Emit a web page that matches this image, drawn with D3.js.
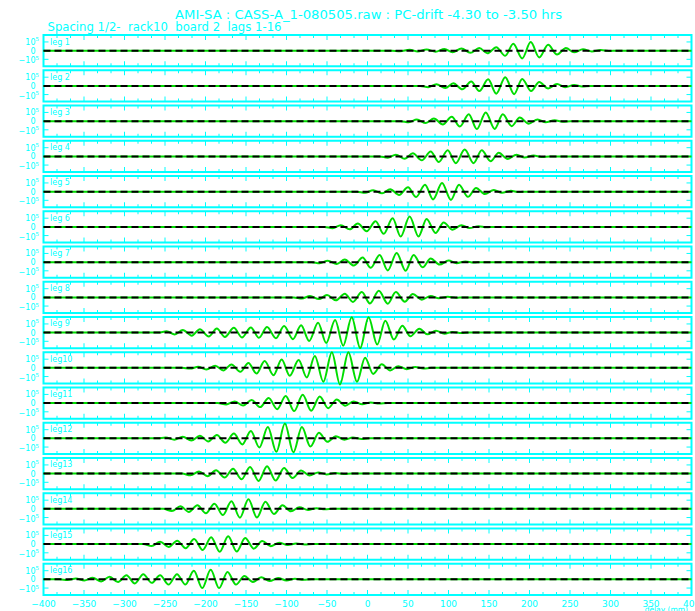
<!DOCTYPE html>
<html lang="en">
<head>
  <meta charset="UTF-8">
  <title>AMI-SA lag plot</title>
  <script src="https://d3js.org/d3.v7.min.js"></script>
  <style>
    html, body { margin: 0; padding: 0; background: #fff; }
    svg { display: block; }
    text { font-family: "DejaVu Sans", "Liberation Sans", sans-serif; fill: #00ffff; white-space: pre; }
  </style>
</head>
<body>
<div id="chart"></div>
<script>
  const titleText = "AMI-SA : CASS-A_1-080505.raw : PC-drift -4.30 to -3.50 hrs";
  const subtitleText = "Spacing 1/2-  rack10  board 2  lags 1-16";
  const lagLabels = ["leg 1","leg 2","leg 3","leg 4","leg 5","leg 6","leg 7","leg 8",
                     "leg 9","leg10","leg11","leg12","leg13","leg14","leg15","leg16"];
  const xTickLabels = [-400,-350,-300,-250,-200,-150,-100,-50,0,50,100,150,200,250,300,350,400];
  const yTickValues = [-1, 0, 1]; // units of 1e5

  // [delay (mm), amplitude (x1e5)] fringe extremes
  const lag1 = [[-400,0],[30,0],[40,-0.08],[52,0.1],[62,-0.1],[73,0.12],[84,-0.12],[95,0.18],[105,-0.2],[116,0.25],[127,-0.25],[138,0.3],[148,-0.3],[159,0.4],[170,-0.59],[180,0.78],[191,-0.9],[201.5,0.98],[212,-0.78],[223,0.67],[234,-0.45],[245,0.3],[255,-0.2],[266,0.15],[277,-0.1],[288,0.06],[298,-0.04],[308,0],[400,0]];
  const lag2 = [[-400,0],[65,0],[75,-0.15],[85,0.2],[96,-0.25],[106,0.3],[117,-0.4],[128,0.5],[138,-0.6],[149,0.75],[159,-0.9],[170,1.0],[181,-0.95],[191,0.8],[202,-0.6],[212,0.45],[223,-0.3],[234,0.22],[244,-0.15],[255,0.1],[265,-0.07],[275,0],[400,0]];
  const lag3 = [[-400,0],[41,0],[51,-0.12],[61,0.18],[72,-0.22],[82,0.3],[93,-0.38],[104,0.5],[114,-0.62],[125,0.8],[135,-0.92],[146,1.0],[157,-0.9],[167,0.78],[178,-0.58],[188,0.42],[199,-0.3],[210,0.2],[220,-0.14],[231,0.1],[241,-0.06],[251,0],[400,0]];
  const lag4 = [[-400,0],[15,0],[25,-0.15],[35,0.2],[46,-0.28],[56,0.35],[67,-0.45],[78,0.55],[88,-0.65],[99,0.72],[109,-0.78],[120,0.8],[131,-0.78],[141,0.7],[152,-0.55],[162,0.42],[173,-0.3],[184,0.2],[194,-0.14],[205,0.1],[215,-0.06],[225,0],[400,0]];
  const lag5 = [[-400,0],[-13,0],[-3,-0.12],[7,0.15],[18,-0.2],[28,0.28],[39,-0.38],[50,0.5],[60,-0.62],[71,0.78],[81,-0.9],[92,1.0],[103,-0.95],[113,0.8],[124,-0.6],[134,0.42],[145,-0.28],[156,0.2],[166,-0.13],[177,0.09],[187,-0.05],[197,0],[400,0]];
  const lag6 = [[-400,0],[-53,0],[-43,-0.15],[-33,0.2],[-22,-0.28],[-12,0.38],[-1,-0.5],[10,0.65],[20,-0.8],[31,0.98],[41,-1.12],[52,1.2],[63,-1.1],[73,0.92],[84,-0.7],[94,0.5],[105,-0.32],[116,0.2],[126,-0.13],[137,0.08],[147,-0.05],[157,0],[400,0]];
  const lag7 = [[-400,0],[-69,0],[-59,-0.12],[-49,0.16],[-38,-0.22],[-28,0.3],[-17,-0.4],[-6,0.52],[4,-0.66],[15,0.82],[25,-0.96],[36,1.05],[47,-0.98],[57,0.82],[68,-0.6],[78,0.42],[89,-0.28],[100,0.18],[110,-0.12],[121,0.08],[131,-0.05],[141,0],[400,0]];
  const lag8 = [[-400,0],[-91,0],[-81,-0.12],[-71,0.15],[-60,-0.2],[-50,0.26],[-39,-0.34],[-28,0.42],[-18,-0.52],[-7,0.62],[3,-0.7],[14,0.75],[25,-0.72],[35,0.62],[46,-0.5],[56,0.38],[67,-0.26],[78,0.17],[88,-0.11],[99,0.07],[109,-0.04],[119,0],[400,0]];
  const lag9 = [[-400,0],[-258,0],[-248,0.15],[-238,-0.22],[-228,0.3],[-217,-0.35],[-207,0.4],[-196,-0.45],[-186,0.47],[-176,-0.5],[-165,0.55],[-155,-0.55],[-144,0.6],[-134,-0.6],[-124,0.65],[-113,-0.65],[-103,0.75],[-92,-0.75],[-82,0.85],[-72,-0.95],[-61,1.15],[-51,-1.2],[-40,1.45],[-30,-1.5],[-19.5,1.76],[-9,-1.78],[1.3,1.76],[12,-1.37],[22,1.37],[32.5,-0.8],[43,0.8],[53,-0.42],[64,0.45],[74,-0.2],[84.5,0.22],[95,-0.12],[105,0.08],[116,-0.05],[126,0],[400,0]];
  const lag10 = [[-400,0],[-229,0],[-219,-0.08],[-209,0.12],[-199,-0.18],[-188,0.25],[-178,-0.3],[-168,0.4],[-157,-0.45],[-147,0.55],[-137,-0.65],[-127,0.78],[-116,-0.85],[-106,0.95],[-96,-0.9],[-85,0.9],[-75,-1.1],[-65,1.37],[-54.5,-1.6],[-44,1.8],[-34,-1.9],[-23.6,1.8],[-13,-1.6],[-3,1.18],[7,-0.7],[17.6,0.42],[28,-0.3],[38,0.2],[48.5,-0.15],[59,0.1],[69,-0.06],[79,0],[400,0]];
  const lag11 = [[-400,0],[-185,0],[-174.5,-0.15],[-164,0.2],[-153.5,-0.28],[-143,0.36],[-132.5,-0.46],[-122,0.58],[-111.5,-0.7],[-101,0.82],[-90.5,-0.92],[-80,0.95],[-69.5,-0.88],[-59,0.75],[-48.5,-0.58],[-38,0.42],[-27.5,-0.3],[-17,0.2],[-6.5,-0.13],[4,0.08],[14.5,-0.05],[25,0],[400,0]];
  const lag12 = [[-400,0],[-259,0],[-249,0.1],[-238.5,-0.15],[-228,0.2],[-217.5,-0.25],[-207,0.3],[-196.5,-0.35],[-186,0.4],[-175.5,-0.5],[-165,0.55],[-154.5,-0.7],[-144,0.85],[-133.5,-1.05],[-123,1.3],[-112.5,-1.55],[-102,1.7],[-91.5,-1.6],[-81,1.3],[-70.5,-0.95],[-60,0.65],[-49.5,-0.4],[-39,0.25],[-28.5,-0.15],[-18,0.1],[-7.5,-0.06],[3,0],[400,0]];
  const lag13 = [[-400,0],[-229,0],[-218.5,-0.2],[-208,0.25],[-197.5,-0.3],[-187,0.38],[-176.5,-0.46],[-166,0.56],[-155.5,-0.66],[-145,0.76],[-134.5,-0.84],[-124,0.85],[-113.5,-0.8],[-103,0.66],[-92.5,-0.5],[-82,0.35],[-71.5,-0.22],[-61,0.14],[-50.5,-0.09],[-40,0.06],[-29.5,-0.04],[-19,0],[400,0]];
  const lag14 = [[-400,0],[-252,0],[-241.5,-0.25],[-231,0.3],[-220.5,-0.35],[-210,0.42],[-199.5,-0.5],[-189,0.6],[-178.5,-0.72],[-168,0.88],[-157.5,-1.02],[-147,1.1],[-136.5,-1.0],[-126,0.82],[-115.5,-0.6],[-105,0.42],[-94.5,-0.28],[-84,0.18],[-73.5,-0.12],[-63,0.08],[-52.5,-0.05],[-42,0],[400,0]];
  const lag15 = [[-400,0],[-277,0],[-266.5,-0.22],[-256,0.28],[-245.5,-0.33],[-235,0.4],[-224.5,-0.48],[-214,0.58],[-203.5,-0.68],[-193,0.8],[-182.5,-0.88],[-172,0.9],[-161.5,-0.85],[-151,0.7],[-140.5,-0.52],[-130,0.36],[-119.5,-0.24],[-109,0.16],[-98.5,-0.1],[-88,0.06],[-77.5,-0.04],[-67,0],[400,0]];
  const lag16 = [[-400,0],[-380,0],[-370.4,-0.08],[-360,0.1],[-349.6,-0.14],[-339.2,0.18],[-328.8,-0.24],[-318.4,0.3],[-308,-0.31],[-297.6,0.47],[-287.2,-0.47],[-276.8,0.6],[-266.4,-0.4],[-256,0.47],[-245.6,-0.6],[-235.2,0.6],[-224.8,-0.6],[-214.4,0.98],[-204,-1.0],[-193.6,1.1],[-183.2,-1.0],[-172.8,0.86],[-162.4,-0.6],[-152,0.4],[-141.6,-0.3],[-131.2,0.24],[-120.8,-0.2],[-110.4,0.15],[-100,-0.12],[-89.6,0.08],[-79,-0.05],[-69,0],[400,0]];
  const lags = [lag1,lag2,lag3,lag4,lag5,lag6,lag7,lag8,lag9,lag10,lag11,lag12,lag13,lag14,lag15,lag16];

  const width = 695, height = 611;
  const cyan = "#00ffff", green = "#00dd00";

  const svg = d3.select("#chart").append("svg")
    .attr("width", width).attr("height", height);

  const x = d3.scaleLinear().domain([-400, 400]).range([43.5, 691.5]);
  const band = d3.scaleBand().domain(d3.range(lags.length))
    .range([35, 595]).paddingInner(0.113).paddingOuter(0);

  svg.append("text")
    .attr("x", 175).attr("y", 18.5)
    .attr("font-size", 12)
    .attr("textLength", 387).attr("lengthAdjust", "spacingAndGlyphs")
    .text(titleText);
  svg.append("text")
    .attr("x", 47.5).attr("y", 31)
    .attr("font-size", 12)
    .attr("textLength", 234).attr("lengthAdjust", "spacingAndGlyphs")
    .text(subtitleText);

  // frame ticks: major every 50 mm, three subdivisions between
  const majorX = d3.range(-400, 401, 50);
  const minorX = d3.range(-400, 400, 50).flatMap(v => [v + 50 / 3, v + 100 / 3]);

  const line = d3.line().curve(d3.curveMonotoneX);

  lags.forEach((data, i) => {
    const top = band(i), bw = band.bandwidth();
    const y = d3.scaleLinear().domain([-1.8, 1.8]).range([top + bw, top]);
    const g = svg.append("g");

    const tickG = g.append("g").attr("stroke", cyan).attr("stroke-width", 1);
    majorX.forEach(v => {
      tickG.append("line").attr("x1", x(v)).attr("x2", x(v)).attr("y1", top).attr("y2", top + 5);
      tickG.append("line").attr("x1", x(v)).attr("x2", x(v)).attr("y1", top + bw).attr("y2", top + bw - 5);
    });
    minorX.forEach(v => {
      tickG.append("line").attr("x1", x(v)).attr("x2", x(v)).attr("y1", top).attr("y2", top + 3);
      tickG.append("line").attr("x1", x(v)).attr("x2", x(v)).attr("y1", top + bw).attr("y2", top + bw - 3);
    });
    yTickValues.forEach(v => {
      tickG.append("line").attr("x1", x(-400)).attr("x2", x(-400) + 5).attr("y1", y(v)).attr("y2", y(v));
      tickG.append("line").attr("x1", x(400)).attr("x2", x(400) - 5).attr("y1", y(v)).attr("y2", y(v));
    });

    g.append("rect")
      .attr("x", x(-400)).attr("y", top)
      .attr("width", x(400) - x(-400)).attr("height", bw)
      .attr("fill", "none").attr("stroke", cyan).attr("stroke-width", 2);

    const lab = g.append("g").attr("font-size", 8).attr("text-anchor", "end");
    const t1 = lab.append("text").attr("x", 39).attr("y", y(1) + 3);
    t1.append("tspan").text("10");
    t1.append("tspan").attr("dy", -3.5).attr("font-size", 5.5).text("5");
    lab.append("text").attr("x", 35.5).attr("y", y(0) + 3).text("0");
    const t2 = lab.append("text").attr("x", 39).attr("y", y(-1) + 4);
    t2.append("tspan").text("\u221210");
    t2.append("tspan").attr("dy", -3.5).attr("font-size", 5.5).text("5");

    g.append("text")
      .attr("x", 50).attr("y", top + 9.5)
      .attr("font-size", 8)
      .text(lagLabels[i]);

    g.append("path")
      .datum(data)
      .attr("fill", "none").attr("stroke", green).attr("stroke-width", 2)
      .attr("d", line.x(d => x(d[0])).y(d => y(d[1])));

    g.append("line")
      .attr("x1", x(-400)).attr("x2", x(400))
      .attr("y1", y(0)).attr("y2", y(0))
      .attr("stroke", "#000").attr("stroke-width", 2)
      .attr("stroke-dasharray", "7,4");
  });

  const lastTop = band(lags.length - 1) + band.bandwidth();
  svg.append("g").attr("font-size", 9).attr("text-anchor", "middle")
    .selectAll("text").data(xTickLabels).join("text")
    .attr("x", d => x(d)).attr("y", lastTop + 11.5)
    .text(d => d < 0 ? "\u2212" + Math.abs(d) : d);

  svg.append("text")
    .attr("x", 688).attr("y", 612)
    .attr("font-size", 7.5).attr("text-anchor", "end")
    .text("delay (mm)");
</script>
</body>
</html>
